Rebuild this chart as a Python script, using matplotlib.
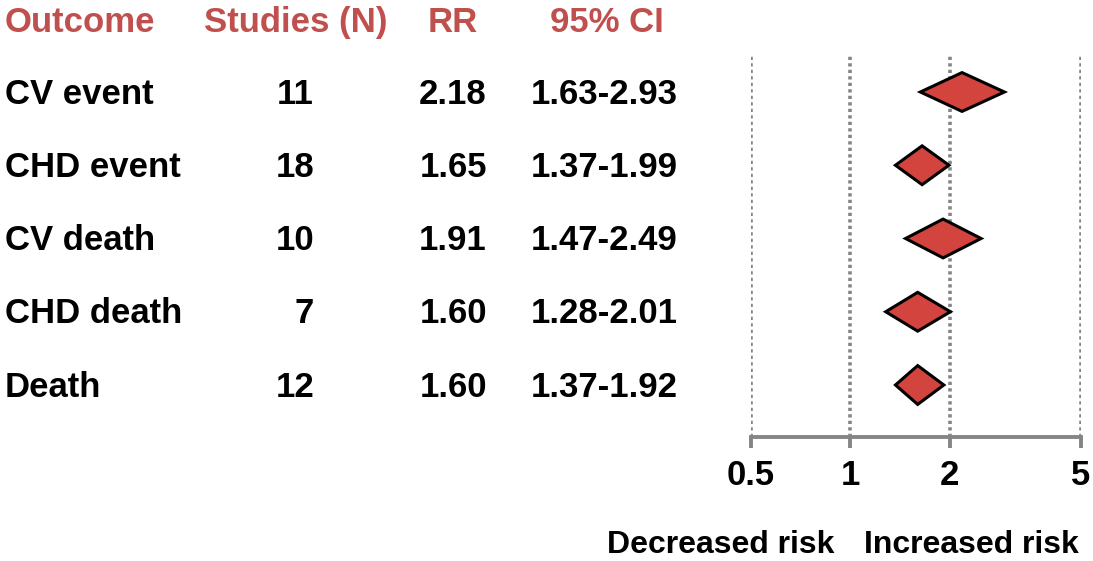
import matplotlib
matplotlib.use("Agg")
import matplotlib.pyplot as plt
from matplotlib.patches import Polygon
from matplotlib.transforms import blended_transform_factory

# data
outcomes = ["CV event", "CHD event", "CV death", "CHD death", "Death"]
studies = [11, 18, 10, 7, 12]
rr = [2.18, 1.65, 1.91, 1.60, 1.60]
ci_low = [1.63, 1.37, 1.47, 1.28, 1.37]
ci_high = [2.93, 1.99, 2.49, 2.01, 1.92]
headers = ["Outcome", "Studies (N)", "RR", "95% CI"]
ticks = [0.5, 1, 2, 5]
tick_labels = ["0.5", "1", "2", "5"]

plt.rcParams["font.family"] = ["Liberation Sans", "DejaVu Sans"]
plt.rcParams["font.weight"] = "bold"

red_text = "#c0504d"
red_fill = "#d4443f"
grey = "#858585"
fs = 25

fig = plt.figure(figsize=(10.93, 5.61), dpi=100)
W, H = 1093, 561
ax = fig.add_axes([751 / W, 124 / H, 330 / W, 382 / H])

ax.set_xscale("log")
ax.set_xlim(0.5, 5)
ax.set_ylim(4.71, -0.505)

for t in ticks:
    ax.axvline(t, color=grey, lw=2.6, ls=(0, (0.9, 0.9)), zorder=1)

half_h = 0.265
for i in range(len(outcomes)):
    poly = Polygon([(ci_low[i], i), (rr[i], i - half_h), (ci_high[i], i), (rr[i], i + half_h)],
                   closed=True, facecolor=red_fill, edgecolor="black", lw=2.2, zorder=3)
    ax.add_patch(poly)

for s in ["top", "right", "left"]:
    ax.spines[s].set_visible(False)
ax.spines["bottom"].set_color(grey)
ax.spines["bottom"].set_linewidth(2.8)
ax.set_yticks([])
ax.set_xticks(ticks)
ax.set_xticklabels(tick_labels)
ax.xaxis.set_minor_locator(matplotlib.ticker.NullLocator())
ax.tick_params(axis="x", length=8, width=2.8, color=grey, labelsize=fs, pad=8)
for lab in ax.get_xticklabels():
    lab.set_fontweight("bold")

tr = blended_transform_factory(fig.transFigure, ax.transData)

# header row
head_y = -0.95
fig.text(5 / W, head_y, headers[0], transform=tr, ha="left", va="center", color=red_text, fontsize=fs, fontweight="bold")
fig.text(296 / W, head_y, headers[1], transform=tr, ha="center", va="center", color=red_text, fontsize=fs, fontweight="bold")
fig.text(453 / W, head_y, headers[2], transform=tr, ha="center", va="center", color=red_text, fontsize=fs, fontweight="bold")
fig.text(607 / W, head_y, headers[3], transform=tr, ha="center", va="center", color=red_text, fontsize=fs, fontweight="bold")

for i in range(len(outcomes)):
    y = i + 0.03
    fig.text(5 / W, y, outcomes[i], transform=tr, ha="left", va="center", fontsize=fs, fontweight="bold")
    fig.text(314 / W, y, str(studies[i]), transform=tr, ha="right", va="center", fontsize=fs, fontweight="bold")
    fig.text(453 / W, y, f"{rr[i]:.2f}", transform=tr, ha="center", va="center", fontsize=fs, fontweight="bold")
    fig.text(604 / W, y, f"{ci_low[i]:.2f}-{ci_high[i]:.2f}", transform=tr, ha="center", va="center", fontsize=fs, fontweight="bold")

fig.text(721 / W, 16 / H, "Decreased risk", ha="center", va="center", fontsize=fs - 2, fontweight="bold")
fig.text(971 / W, 16 / H, "Increased risk", ha="center", va="center", fontsize=fs - 2, fontweight="bold")

fig.savefig("out.png", dpi=100)
